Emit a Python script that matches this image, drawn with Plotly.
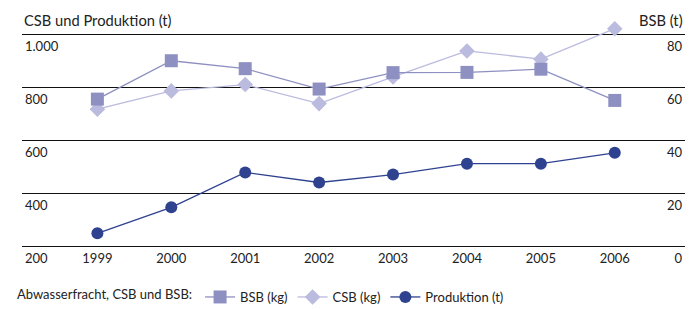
import plotly.graph_objects as go

years = [1999, 2000, 2001, 2002, 2003, 2004, 2005, 2006]
bsb_t = [55.5, 70.0, 67.0, 59.3, 65.5, 65.6, 66.8, 55.0]
csb_t = [717, 786, 810, 738, 839, 937, 906, 1021]
produktion_t = [248, 346, 478, 440, 470, 511, 511, 552]

left_vals = [200, 400, 600, 800, 1000]
left_text = ["200", "400", "600", "800", "1.000"]
right_vals = [0, 20, 40, 60, 80]
right_text = ["0", "20", "40", "60", "80"]

C_BSB = "#8e90c2"
C_CSB = "#babbde"
C_PROD = "#2f4290"
FONT = "Lato"
TXT = "#222222"
GRID = "#111111"

fig = go.Figure()
fig.add_trace(go.Scatter(
    x=years, y=bsb_t, name="BSB (kg)", yaxis="y2", mode="lines+markers",
    line=dict(color=C_BSB, width=1.3), cliponaxis=False,
    marker=dict(symbol="square", size=13, color=C_BSB)))
fig.add_trace(go.Scatter(
    x=years, y=csb_t, name="CSB (kg)", mode="lines+markers",
    line=dict(color=C_CSB, width=1.3), cliponaxis=False,
    marker=dict(symbol="diamond", size=12, color=C_CSB)))
fig.add_trace(go.Scatter(
    x=years, y=produktion_t, name="Produktion (t)", mode="lines+markers",
    line=dict(color=C_PROD, width=1.3), cliponaxis=False,
    marker=dict(symbol="circle", size=12, color=C_PROD)))

fig.update_layout(
    template="none",
    width=690, height=309,
    margin=dict(l=22, r=5, t=25, b=63, autoexpand=False),
    paper_bgcolor="white", plot_bgcolor="white",
    font=dict(family=FONT, size=13, color=TXT),
    xaxis=dict(range=[1997.98, 2006.95], tickvals=years, showgrid=False,
               zeroline=False, showline=True, mirror=False, linecolor=GRID,
               linewidth=1.3, ticks="", automargin=False,
               tickfont=dict(size=13, color=TXT)),
    yaxis=dict(range=[200, 1035], tickvals=left_vals, ticktext=left_text,
               showgrid=True, gridcolor=GRID, gridwidth=1.3,
               zeroline=False, showline=False, ticks="", automargin=False,
               ticklabelposition="inside", ticklabelshift=12,
               ticklabeloverflow="allow",
               tickfont=dict(size=13, color=TXT)),
    yaxis2=dict(range=[0, 83.5], tickvals=right_vals, ticktext=right_text,
                overlaying="y", side="right", showgrid=False, zeroline=False,
                showline=False, ticks="", automargin=False,
                ticklabelposition="inside", ticklabelshift=12,
                ticklabeloverflow="allow",
                tickfont=dict(size=13, color=TXT)),
    showlegend=True,
    legend=dict(orientation="h", xref="container", yref="container",
                x=15/690, y=1-297/309, xanchor="left", yanchor="middle",
                title=dict(text="Abwasserfracht, CSB und BSB:", side="left",
                           font=dict(size=13, color=TXT)),
                font=dict(size=13, color=TXT), itemwidth=30,
                bgcolor="rgba(0,0,0,0)"),
    annotations=[
        dict(text="CSB und Produktion (t)", xref="paper", yref="paper",
             x=0, y=1, yshift=5, xanchor="left", yanchor="middle",
             showarrow=False, font=dict(size=14.7, color=TXT)),
        dict(text="BSB (t)", xref="paper", yref="paper",
             x=1, y=1, yshift=5, xanchor="right", yanchor="middle",
             showarrow=False, font=dict(size=14.7, color=TXT)),
    ],
)

fig.write_html("out.html",
               config={"displayModeBar": False},
               post_script="document.body.style.margin='0';")
